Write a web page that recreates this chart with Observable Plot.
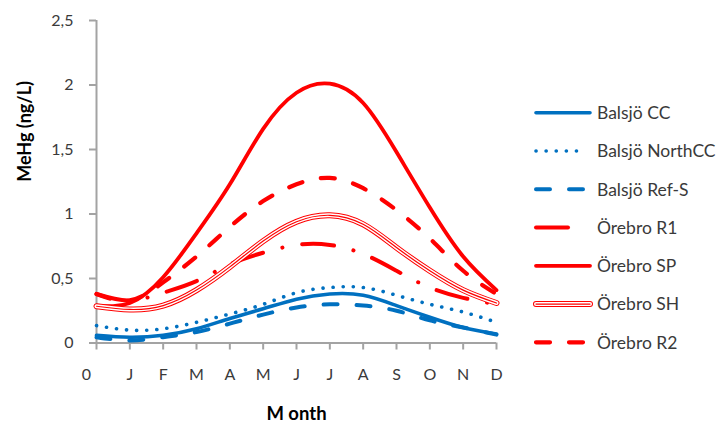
<!DOCTYPE html>
<html>
<head>
<meta charset="utf-8">
<script src="https://cdn.jsdelivr.net/npm/d3@7"></script>
<script src="https://cdn.jsdelivr.net/npm/@observablehq/plot@0.6"></script>
<style>
  body { margin: 0; background: #fff; }
  #chart svg { display: block; }
</style>
</head>
<body>
<div id="chart"></div>
<script>
// Month positions 0..12 and their axis labels
const monthLabels = ["0", "J", "F", "M", "A", "M", "J", "J", "A", "S", "O", "N", "D"];

// Modelled MeHg concentration (ng/L) per month
const balsjoCC      = [0.06, 0.045, 0.06, 0.11, 0.19, 0.265, 0.34, 0.38, 0.37, 0.29, 0.20, 0.12, 0.07];
const balsjoNorthCC = [0.135, 0.10, 0.11, 0.16, 0.225, 0.30, 0.39, 0.43, 0.43, 0.37, 0.30, 0.24, 0.16];
const balsjoRefS    = [0.045, 0.02, 0.045, 0.085, 0.15, 0.22, 0.275, 0.30, 0.29, 0.25, 0.175, 0.12, 0.065];
const orebroR1      = [0.38, 0.33, 0.39, 0.48, 0.61, 0.70, 0.76, 0.76, 0.69, 0.56, 0.43, 0.35, 0.30];
const orebroSP      = [0.29, 0.31, 0.51, 0.85, 1.23, 1.66, 1.94, 2.01, 1.86, 1.48, 1.05, 0.67, 0.41];
const orebroSH      = [0.285, 0.26, 0.29, 0.41, 0.59, 0.79, 0.94, 0.99, 0.92, 0.74, 0.56, 0.41, 0.31];
const orebroR2      = [0.38, 0.33, 0.47, 0.67, 0.90, 1.10, 1.23, 1.28, 1.20, 1.03, 0.81, 0.56, 0.38];

const seriesNames = ["Balsjö CC", "Balsjö NorthCC", "Balsjö Ref-S", "Örebro R1", "Örebro SP", "Örebro SH", "Örebro R2"];
const seriesValues = [balsjoCC, balsjoNorthCC, balsjoRefS, orebroR1, orebroSP, orebroSH, orebroR2];

const yTicks = [0, 0.5, 1, 1.5, 2, 2.5];

// Line styling for each series (Excel-like line formats)
const BLUE = "#0070C0", RED = "#FF0000";
const styles = [
  [{stroke: BLUE, strokeWidth: 3.6}],
  [{stroke: BLUE, strokeWidth: 3.6, strokeDasharray: "0.1 10"}],
  [{stroke: BLUE, strokeWidth: 4, strokeDasharray: "14 19"}],
  [{stroke: RED, strokeWidth: 4, strokeDasharray: "32 20 0.1 20"}],
  [{stroke: RED, strokeWidth: 3.8}],
  [{stroke: RED, strokeWidth: 6}, {stroke: "#fff", strokeWidth: 4}, {stroke: RED, strokeWidth: 1.2}],
  [{stroke: RED, strokeWidth: 4.2, strokeDasharray: "14 19"}]
];

const rows = seriesNames.flatMap((name, s) =>
  seriesValues[s].map((v, m) => ({series: name, month: m, value: v})));

const FONT = "Lato, 'Open Sans', sans-serif";
const AXIS = "#A3A3A3";
const TEXT = "#3a3a3a";

const lineMarks = seriesNames.flatMap((name, s) =>
  styles[s].map(st => Plot.line(rows.filter(r => r.series === name), {
    x: "month", y: "value", curve: "natural",
    strokeLinecap: "round", strokeLinejoin: "round", ...st
  })));

const plot = Plot.plot({
  width: 725,
  height: 425,
  marginLeft: 96,
  marginRight: 229,
  marginTop: 20,
  marginBottom: 82.5,
  style: {fontFamily: FONT, fontSize: "16px", color: TEXT, background: "#fff"},
  x: {domain: [0, 12]},
  y: {domain: [0, 2.5]},
  marks: [
    Plot.axisY({ticks: yTicks, tickFormat: d => String(d).replace(".", ","), tickSize: 7, tickPadding: 16,
      stroke: AXIS, strokeWidth: 2, fill: TEXT, label: null}),
    Plot.axisX({ticks: d3.range(13), tickFormat: i => i === 0 ? "" : monthLabels[i], tickSize: 7, tickPadding: 19,
      stroke: AXIS, strokeWidth: 2, fill: TEXT, label: null}),
    Plot.text([0], {x: d => d, text: d => monthLabels[d], frameAnchor: "bottom", lineAnchor: "top",
      dy: 26, dx: -10, fill: TEXT}),
    Plot.ruleX([0], {stroke: AXIS, strokeWidth: 2}),
    Plot.ruleY([0], {stroke: AXIS, strokeWidth: 2}),
    ...lineMarks,
    Plot.text(["MeHg (ng/L)"], {frameAnchor: "left", rotate: -90, dx: -71, text: d => d,
      fontWeight: "bold", fontSize: 18, fill: "#000"}),
    Plot.text(["M onth"], {frameAnchor: "bottom", dy: 77, text: d => d,
      fontWeight: "bold", fontSize: 18.5, fill: "#000"})
  ]
});

// Legend on the right of the plot area
const svg = d3.select(plot);
const legend = svg.append("g").attr("font-family", FONT).attr("font-size", 17.5).attr("text-anchor", "start");
seriesNames.forEach((name, s) => {
  const y = 112.7 + s * 38.27;
  styles[s].forEach(st => {
    legend.append("line")
      .attr("x1", 536).attr("x2", st.strokeDasharray ? 584 : 590).attr("y1", y).attr("y2", y)
      .attr("stroke", st.stroke).attr("stroke-width", st.strokeWidth)
      .attr("stroke-dasharray", st.strokeDasharray || null)
      .attr("stroke-linecap", "round");
  });
  legend.append("text").attr("x", 597).attr("y", y).attr("dy", "0.36em")
    .attr("fill", TEXT).text(name);
});

document.getElementById("chart").append(plot);
</script>
</body>
</html>
